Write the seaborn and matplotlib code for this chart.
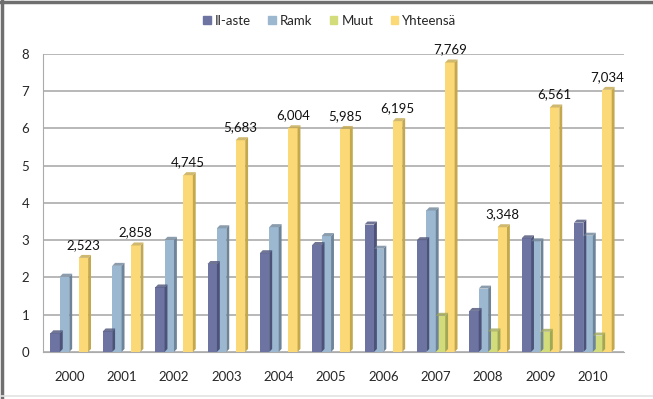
import numpy as np
import pandas as pd
import seaborn as sns
import matplotlib.pyplot as plt
from matplotlib.patches import Polygon
from matplotlib.lines import Line2D

years = ["2000", "2001", "2002", "2003", "2004", "2005", "2006", "2007", "2008", "2009", "2010"]
il_aste = [0.50, 0.55, 1.73, 2.36, 2.65, 2.87, 3.42, 3.00, 1.10, 3.05, 3.47]
ramk = [2.02, 2.31, 3.01, 3.32, 3.35, 3.11, 2.77, 3.80, 1.70, 2.97, 3.12]
muut = [0, 0, 0, 0, 0, 0, 0, 0.97, 0.55, 0.54, 0.44]
yhteensa = [2.523, 2.858, 4.745, 5.683, 6.004, 5.985, 6.195, 7.769, 3.348, 6.561, 7.034]
series = ["Il-aste", "Ramk", "Muut", "Yhteensä"]
colors = ["#6d74a2", "#9bb8d0", "#d2dc7a", "#fcd977"]
dark = ["#4c5278", "#6e8499", "#a0a858", "#c4a84e"]

df = pd.DataFrame({"year": years, "Il-aste": il_aste, "Ramk": ramk,
                   "Muut": muut, "Yhteensä": yhteensa})
long = df.melt(id_vars="year", var_name="sarja", value_name="arvo")

sns.set_style("white")
plt.rcParams['font.family'] = ['Lato', 'DejaVu Sans']

fig = plt.figure(figsize=(6.53, 3.99), dpi=100)
ax = fig.add_axes([0.066, 0.118, 0.89, 0.747])

sns.barplot(data=long, x="year", y="arvo", hue="sarja", hue_order=series,
            palette=colors, width=0.72, ax=ax, legend=False, saturation=1,
            edgecolor="none")

# pseudo 3D: side and top faces from the drawn bars
dx, dy = 0.055, 0.08
for i, cont in enumerate(ax.containers):
    for p in cont.patches:
        x0, w, h = p.get_x(), p.get_width(), p.get_height()
        if h <= 0:
            continue
        side = Polygon([(x0 + w, 0), (x0 + w + dx, dy), (x0 + w + dx, h + dy), (x0 + w, h)],
                       closed=True, facecolor=dark[i], edgecolor="none", zorder=3)
        top = Polygon([(x0, h), (x0 + dx, h + dy), (x0 + w + dx, h + dy), (x0 + w, h)],
                      closed=True, facecolor=dark[i], edgecolor="none", zorder=3, alpha=0.8)
        ax.add_patch(side)
        ax.add_patch(top)
        p.set_zorder(3)

labels = [f"{v:.3f}".replace(".", ",") for v in yhteensa]
ax.bar_label(ax.containers[3], labels=labels, padding=5, fontsize=9.5, color="#111111")

ax.set_ylim(0, 8)
ax.set_xlim(-0.5, len(years) - 0.4)
ax.set_yticks(range(0, 9))
ax.yaxis.grid(True, color="#ababab", linewidth=1.2)
ax.set_axisbelow(True)
ax.set_xlabel("")
ax.set_ylabel("")
for s in ["top", "right"]:
    ax.spines[s].set_visible(False)
ax.spines["left"].set_color("#ababab")
ax.spines["bottom"].set_color("#ababab")
ax.set_xticks(np.arange(len(years)) + 0.5, minor=True)
ax.tick_params(axis="x", which="major", length=0, pad=14, labelsize=9.5)
ax.tick_params(axis="x", which="minor", length=5, color="#ababab", width=1)
ax.tick_params(axis="y", length=4, color="#ababab", labelsize=9.5, pad=6)

handles = [plt.Rectangle((0, 0), 1, 1, color=c) for c in colors]
fig.legend(handles, series, loc="center", bbox_to_anchor=(0.505, 0.948), ncol=4,
           frameon=False, fontsize=9.5, handlelength=0.6, handleheight=0.6,
           handletextpad=0.3, columnspacing=1.3)

# chart frame: dark top and left, faint bottom
fig.add_artist(Line2D([0.003, 0.003], [0.0, 1.0], transform=fig.transFigure,
                      color="#6f6f6f", linewidth=2.5))
fig.add_artist(Line2D([0.0, 1.0], [0.996, 0.996], transform=fig.transFigure,
                      color="#6f6f6f", linewidth=2.5))
fig.add_artist(Line2D([0.0, 1.0], [0.008, 0.008], transform=fig.transFigure,
                      color="#e3e3e3", linewidth=1.2))

fig.savefig("out.png", dpi=100)
